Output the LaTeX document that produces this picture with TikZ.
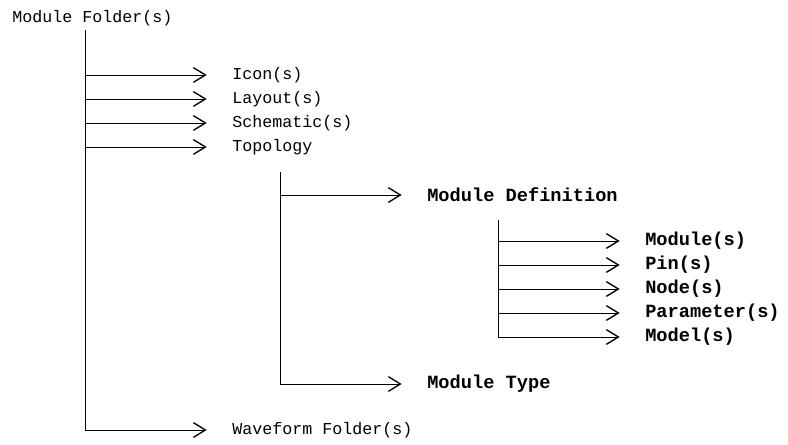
\documentclass[tikz,border=0pt]{standalone}
\usepackage{fontspec}
\setmonofont{Liberation Mono}
\usetikzlibrary{arrows.meta,positioning}
\begin{document}
\begin{tikzpicture}[x=0.75pt,y=-0.75pt,
  zweig/.style={-{Straight Barb[length=9pt,width=11pt,line width=1pt]},line width=0.7pt,shorten >=19pt},
  stamm/.style={line width=0.7pt},
  leicht/.style={anchor=west,inner sep=0pt,font=\ttfamily\fontsize{12.5}{12.5}\selectfont},
  fett/.style={anchor=west,inner sep=0pt,font=\ttfamily\bfseries\fontsize{14}{14}\selectfont}]
\useasboundingbox (0,0) rectangle (788,445);
%Ebene 1: Ordner
\node[leicht] (folder) at (12,18) {Module Folder(s)};
\coordinate (s1) at (85,30);
\foreach \name/\txt [count=\i] in {icon/Icon(s),layout/Layout(s),schem/Schematic(s),topo/Topology}{
  \node[leicht] (\name) at (232,51+24*\i) {\txt};
  \draw[zweig] (\name -| s1) -- (\name.west);
}
\node[leicht] (wave) at (232,430) {Waveform Folder(s)};
\draw[stamm] (s1) -- (wave -| s1);
\draw[zweig] (wave -| s1) -- (wave.west);
%Ebene 2: Topology
\coordinate (s2) at (280,172);
\node[fett] (mdef) at (427,195) {Module Definition};
\node[fett] (mtype) at (427,384) {Module Type};
\draw[stamm] (s2) -- (mtype -| s2);
\draw[zweig] (mdef -| s2) -- (mdef.west);
\draw[zweig] (mtype -| s2) -- (mtype.west);
%Ebene 3: Module Definition
\coordinate (s3) at (498,220);
\foreach \name/\txt [count=\i] in {mod/Module(s),pin/Pin(s),nod/Node(s),par/Parameter(s),mdl/Model(s)}{
  \node[fett] (\name) at (645,217+24*\i) {\txt};
  \draw[zweig] (\name -| s3) -- (\name.west);
}
\draw[stamm] (s3) -- (mdl -| s3);
\end{tikzpicture}
\end{document}
